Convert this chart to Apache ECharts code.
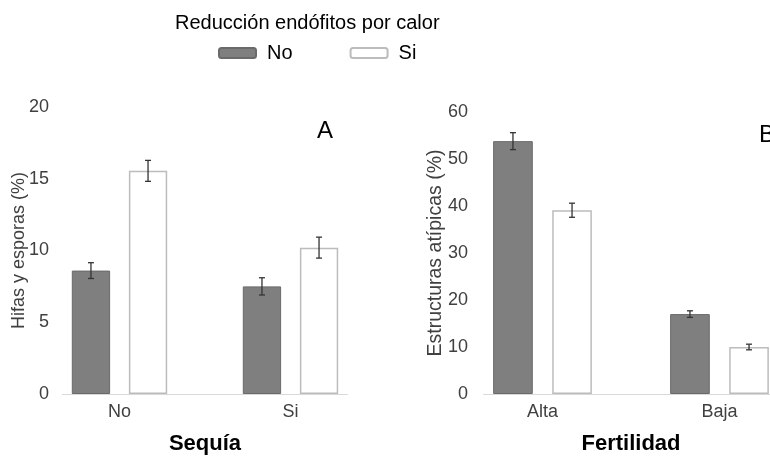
<!DOCTYPE html>
<html lang="es">
<head>
<meta charset="UTF-8">
<title>Endófitos</title>
<script src="https://cdn.jsdelivr.net/npm/echarts@6/dist/echarts.min.js"></script>
<style>
  html, body { margin: 0; padding: 0; background: #fff; }
  #main { width: 770px; height: 456px; }
</style>
</head>
<body>
<div id="main"></div>
<script>
// datos
var sequiaCats = ['No', 'Si'];
var sequiaNo = [8.6, 7.5];
var sequiaNoErr = [0.55, 0.6];
var sequiaSi = [15.55, 10.2];
var sequiaSiErr = [0.73, 0.73];

var fertCats = ['Alta', 'Baja'];
var fertNo = [53.8, 17.0];
var fertNoErr = [1.8, 0.7];
var fertSi = [39.1, 10.0];
var fertSiErr = [1.5, 0.6];

var narrow = "'Liberation Sans Narrow', 'Arial Narrow', 'Liberation Sans', Arial, sans-serif";
var sans = "'Liberation Sans', Arial, sans-serif";

// barras agrupadas: ancho 22.4% de la banda, separación 49%
var BAR_W = 0.224, BAR_GAP = 0.49;

function errData(vals, errs) {
  return vals.map(function (v, i) { return [i, v, errs[i]]; });
}

function errSeries(name, xi, yi, vals, errs, side) {
  return {
    name: name,
    type: 'custom',
    xAxisIndex: xi,
    yAxisIndex: yi,
    z: 5,
    silent: true,
    encode: { x: 0, y: 1 },
    data: errData(vals, errs),
    renderItem: function (params, api) {
      var band = api.size([1, 0])[0];
      var off = side * band * BAR_W * (1 + BAR_GAP) / 2;
      var top = api.coord([api.value(0), api.value(1) + api.value(2)]);
      var bot = api.coord([api.value(0), api.value(1) - api.value(2)]);
      var x = top[0] + off;
      var st = { stroke: '#333', lineWidth: 1.3 };
      return {
        type: 'group',
        children: [
          { type: 'line', shape: { x1: x, y1: top[1], x2: x, y2: bot[1] }, style: st },
          { type: 'line', shape: { x1: x - 3, y1: top[1], x2: x + 3, y2: top[1] }, style: st },
          { type: 'line', shape: { x1: x - 3, y1: bot[1], x2: x + 3, y2: bot[1] }, style: st }
        ]
      };
    }
  };
}

var darkStyle = { color: '#7f7f7f', borderColor: '#6a6a6a', borderWidth: 1 };
var whiteStyle = { color: '#ffffff', borderColor: '#bcbcbc', borderWidth: 1.5 };

var chart = echarts.init(document.getElementById('main'));

var yLabel = { color: '#404040', fontFamily: narrow, fontSize: 18 };
var xLabel = { color: '#404040', fontFamily: narrow, fontSize: 18, margin: 9 };
var xName = { color: '#000', fontFamily: narrow, fontSize: 22, fontWeight: 'bold' };

chart.setOption({
  animation: false,
  title: [
    { text: 'Reducción endófitos por calor', left: 170, top: 8,
      textStyle: { fontFamily: sans, fontSize: 20, fontWeight: 'normal', color: '#000' } },
    { text: 'A', left: 312, top: 114,
      textStyle: { fontFamily: sans, fontSize: 24, fontWeight: 'normal', color: '#000' } },
    { text: 'B', left: 754, top: 118,
      textStyle: { fontFamily: sans, fontSize: 24, fontWeight: 'normal', color: '#000' } }
  ],
  legend: {
    data: ['No', 'Si'],
    left: 213,
    top: 38,
    itemWidth: 37,
    itemHeight: 10,
    itemGap: 57,
    textStyle: { fontFamily: sans, fontSize: 20, color: '#000', padding: [0, 0, 0, 6] }
  },
  grid: [
    { left: 34, top: 107, width: 342, height: 287, outerBoundsMode: 'none' },
    { left: 454, top: 112, width: 354, height: 282, outerBoundsMode: 'none' }
  ],
  xAxis: [
    { type: 'category', gridIndex: 0, data: sequiaCats,
      axisLine: { show: false }, axisTick: { show: false }, axisLabel: xLabel,
      name: 'Sequía', nameLocation: 'middle', nameGap: 39, nameTextStyle: xName },
    { type: 'category', gridIndex: 1, data: fertCats,
      axisLine: { show: false }, axisTick: { show: false }, axisLabel: xLabel,
      name: 'Fertilidad', nameLocation: 'middle', nameGap: 39, nameTextStyle: xName }
  ],
  yAxis: [
    { type: 'value', gridIndex: 0, min: 0, max: 20, interval: 5, offset: -28,
      axisLine: { show: false }, axisTick: { show: false }, splitLine: { show: false },
      axisLabel: Object.assign({ margin: 13 }, yLabel),
      name: 'Hifas y esporas (%)', nameLocation: 'middle', nameGap: 34, nameMoveOverlap: false,
      nameTextStyle: { color: '#404040', fontFamily: sans, fontSize: 18 } },
    { type: 'value', gridIndex: 1, min: 0, max: 60, interval: 10, offset: -29,
      axisLine: { show: false }, axisTick: { show: false }, splitLine: { show: false },
      axisLabel: Object.assign({ margin: 15 }, yLabel),
      name: 'Estructuras atípicas (%)', nameLocation: 'middle', nameGap: 37, nameMoveOverlap: false,
      nameTextStyle: { color: '#404040', fontFamily: sans, fontSize: 19.5 } }
  ],
  series: [
    { name: 'No', type: 'bar', xAxisIndex: 0, yAxisIndex: 0, data: sequiaNo,
      barWidth: (BAR_W * 100) + '%', barGap: (BAR_GAP * 100) + '%', itemStyle: darkStyle },
    { name: 'Si', type: 'bar', xAxisIndex: 0, yAxisIndex: 0, data: sequiaSi,
      barWidth: (BAR_W * 100) + '%', barGap: (BAR_GAP * 100) + '%', itemStyle: whiteStyle },
    { name: 'No', type: 'bar', xAxisIndex: 1, yAxisIndex: 1, data: fertNo,
      barWidth: (BAR_W * 100) + '%', barGap: (BAR_GAP * 100) + '%', itemStyle: darkStyle },
    { name: 'Si', type: 'bar', xAxisIndex: 1, yAxisIndex: 1, data: fertSi,
      barWidth: (BAR_W * 100) + '%', barGap: (BAR_GAP * 100) + '%', itemStyle: whiteStyle },
    errSeries('errNo', 0, 0, sequiaNo, sequiaNoErr, -1),
    errSeries('errSi', 0, 0, sequiaSi, sequiaSiErr, 1),
    errSeries('errNo', 1, 1, fertNo, fertNoErr, -1),
    errSeries('errSi', 1, 1, fertSi, fertSiErr, 1)
  ]
});

// línea base del eje x: más corta que la banda de categorías, como en el original
function baseLine(xi, yi, cats) {
  var a = chart.convertToPixel({ xAxisIndex: xi }, cats[0]);
  var b = chart.convertToPixel({ xAxisIndex: xi }, cats[cats.length - 1]);
  var band = (b - a) / (cats.length - 1);
  var inset = band * 0.165;
  var y0 = Math.round(chart.convertToPixel({ yAxisIndex: yi }, 0)) + 0.5;
  return {
    type: 'line', z: 1, silent: true,
    shape: { x1: a - band / 2 + inset, y1: y0, x2: b + band / 2 - inset, y2: y0 },
    style: { stroke: '#d9d9d9', lineWidth: 1 }
  };
}

chart.setOption({
  graphic: [baseLine(0, 0, sequiaCats), baseLine(1, 1, fertCats)]
});
</script>
</body>
</html>
